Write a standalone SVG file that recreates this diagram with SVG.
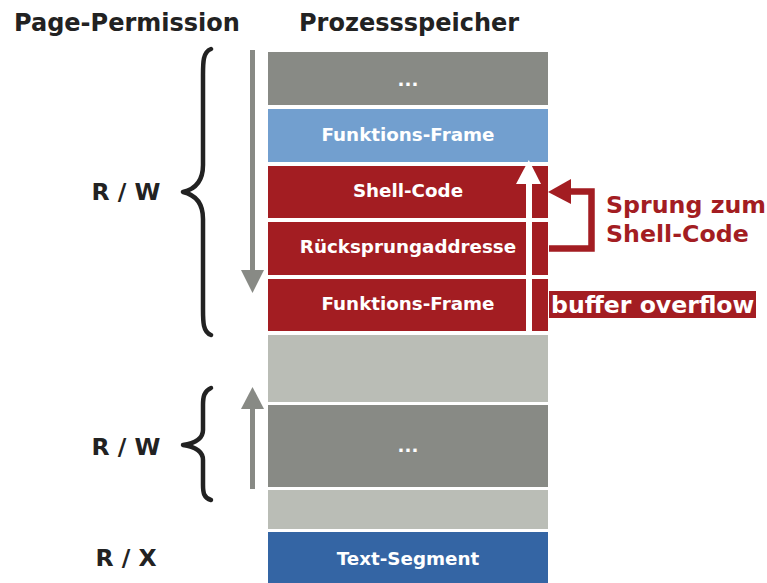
<svg xmlns="http://www.w3.org/2000/svg" width="767" height="583" viewBox="0 0 767 583">
<style>
text{font-family:"DejaVu Sans",Verdana,sans-serif;font-weight:bold}
.h{font-size:24px;fill:#222}
.p{font-size:23.5px;fill:#222;text-anchor:middle}
.b{font-size:18.3px;fill:#fff;text-anchor:middle}
.r{font-size:23.7px;fill:#a31d22}
.dg{fill:#888a85}.lg{fill:#babdb6}.bl{fill:#729fcf}.db{fill:#3465a4}.rd{fill:#a31d22}
.brace{fill:none;stroke:#222;stroke-width:4.5;stroke-linecap:round;stroke-linejoin:round}
</style>
<rect width="767" height="583" fill="#fff"/>
<text class="h" x="14" y="31">Page-Permission</text>
<text class="h" x="299" y="31">Prozessspeicher</text>

<g id="block-dots-top"><rect class="dg" x="268" y="52" width="280" height="53"/><text class="b" x="408" y="86">...</text></g>
<g id="block-frame-top"><rect class="bl" x="268" y="109" width="280" height="53"/><text class="b" x="408" y="141">Funktions-Frame</text></g>
<g id="block-shellcode"><rect class="rd" x="268" y="166" width="280" height="52"/><text class="b" x="408" y="197">Shell-Code</text></g>
<g id="block-ret"><rect class="rd" x="268" y="222" width="280" height="53"/><text class="b" x="408" y="253">Rücksprungaddresse</text></g>
<g id="block-frame"><rect class="rd" x="268" y="279" width="280" height="52"/><text class="b" x="408" y="310">Funktions-Frame</text></g>
<g id="block-free"><rect class="lg" x="268" y="335" width="280" height="67"/></g>
<g id="block-dots-bottom"><rect class="dg" x="268" y="405" width="280" height="82"/><text class="b" x="408" y="452">...</text></g>
<g id="block-free2"><rect class="lg" x="268" y="490" width="280" height="39"/></g>
<g id="block-text"><rect class="db" x="268" y="532" width="280" height="51"/><text class="b" x="408" y="565">Text-Segment</text></g>

<g id="label-rw1"><text class="p" x="126" y="200">R / W</text></g>
<g id="label-rw2"><text class="p" x="126" y="455">R / W</text></g>
<g id="label-rx"><text class="p" x="126" y="566">R / X</text></g>

<g id="braces">
<path class="brace" d="M211,49 C203,52 203,62 203,75 L203,165 C203,180 196,189 183,192 C196,195 203,204 203,219 L203,309 C203,322 203,332 211,335"/>
<path class="brace" d="M211,388 C204,391 203,397 203,405 L203,430 C203,438 196,443 183,445 C196,447 203,452 203,460 L203,485 C203,493 204,498 211,500"/>
</g>

<g id="connectors">
<rect x="250" y="50" width="5" height="222" fill="#888a85"/>
<polygon points="241,270 264,270 252.5,293" fill="#888a85"/>
<rect x="250" y="407" width="5" height="82" fill="#888a85"/>
<polygon points="241,409 264,409 252.5,387" fill="#888a85"/>
<rect x="526" y="182" width="6" height="152" fill="#fff"/>
<polygon points="516,184 541,184 528.8,160" fill="#fff"/>
<polyline points="549,248.5 591.5,248.5 591.5,191.5 568,191.5" fill="none" stroke="#a31d22" stroke-width="6.5"/>
<polygon points="548,192 571,179 571,204" fill="#a31d22"/>
</g>

<g id="label-jump"><text class="r" x="606" y="213">Sprung zum</text><text class="r" x="606" y="242">Shell-Code</text></g>
<g id="label-overflow"><rect class="rd" x="549" y="291" width="207" height="27"/><text x="551" y="313" style="font-size:23.6px;fill:#fff">buffer overflow</text></g>
</svg>
